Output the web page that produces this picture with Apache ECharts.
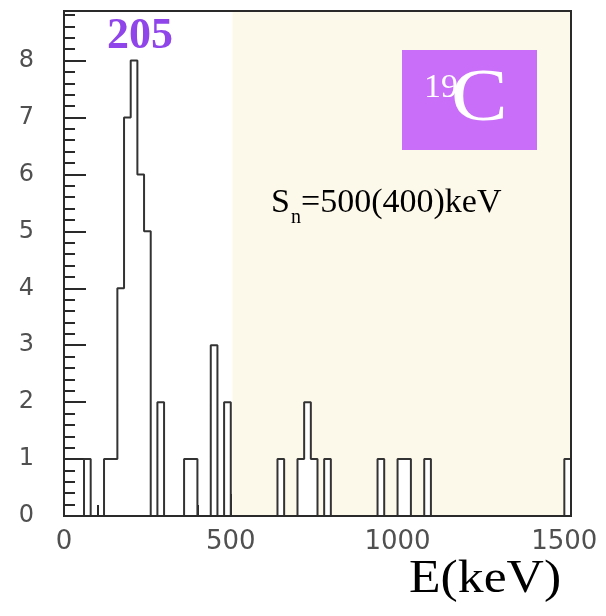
<!DOCTYPE html>
<html>
<head>
<meta charset="utf-8">
<script src="https://cdn.jsdelivr.net/npm/echarts@6/dist/echarts.min.js"></script>
<style>
  html, body { margin: 0; padding: 0; background: #ffffff; }
  #chart { width: 606px; height: 616px; }
</style>
</head>
<body>
<div id="chart"></div>
<script>
// Histogram of decay energies, 20 keV bins starting at 0 keV
const binWidth = 20;
const counts = [
  0, 0, 0, 1, 0, 0, 1, 1, 4, 7,
  8, 6, 5, 0, 2, 0, 0, 0, 1, 1,
  0, 0, 3, 0, 2, 0, 0, 0, 0, 0,
  0, 0, 1, 0, 0, 1, 2, 1, 0, 1,
  0, 0, 0, 0, 0, 0, 0, 1, 0, 0,
  1, 1, 0, 0, 1, 0, 0, 0, 0, 0,
  0, 0, 0, 0, 0, 0, 0, 0, 0, 0,
  0, 0, 0, 0, 0, 1
];

// Axis ranges and tick settings
const xRange = [0, 1520];
const yRange = [0, 8.87];
const xMajorTicks = [0, 500, 1000, 1500];
const yMajorTicks = [0, 1, 2, 3, 4, 5, 6, 7, 8];

// Region above the neutron separation energy
const shadedRange = [505, 1520];

// Annotation texts
const peakLabel = '205';
const nucleusMass = '19';
const nucleusSymbol = 'C';
const snMain = 'S';
const snSub = 'n';
const snValue = '=500(400)keV';
const xTitle = 'E(keV)';

// Step line: left edge of every bin, then closing point at the last edge
const stepData = counts.map((c, k) => [k * binWidth, c]);
stepData.push([counts.length * binWidth, 0]);

const chart = echarts.init(document.getElementById('chart'), null, { renderer: 'canvas' });

const frameColor = '#2a2a2a';
const labelColor = '#505050';

const option = {
  animation: false,
  backgroundColor: '#ffffff',
  grid: { left: 64, top: 11, width: 507, height: 505, show: false },
  xAxis: [
    {
      type: 'value', min: xRange[0], max: xRange[1], interval: 500,
      axisLine: { show: true, onZero: false, lineStyle: { color: frameColor, width: 2 } },
      axisTick: { inside: true, length: 22, lineStyle: { color: frameColor, width: 2 } },
      axisLabel: {
        fontFamily: 'DejaVu Sans', fontSize: 26, color: labelColor, margin: 13,
        formatter: v => (xMajorTicks.indexOf(v) >= 0 ? String(v) : '')
      },
      splitLine: { show: false }
    },
    {
      type: 'value', min: xRange[0], max: xRange[1], interval: 100, position: 'bottom',
      axisLine: { show: false },
      axisTick: { inside: true, length: 11, lineStyle: { color: frameColor, width: 2 } },
      axisLabel: { show: false },
      splitLine: { show: false }
    }
  ],
  yAxis: [
    {
      type: 'value', min: yRange[0], max: yRange[1], interval: 1,
      axisLine: { show: true, onZero: false, lineStyle: { color: frameColor, width: 2 } },
      axisTick: { inside: true, length: 22, lineStyle: { color: frameColor, width: 2 } },
      axisLabel: {
        fontFamily: 'DejaVu Sans', fontSize: 24, color: labelColor, margin: 30,
        formatter: v => (yMajorTicks.indexOf(v) >= 0 ? String(v) : '')
      },
      splitLine: { show: false }
    },
    {
      type: 'value', min: yRange[0], max: yRange[1], interval: 0.2, position: 'left',
      axisLine: { show: false },
      axisTick: { inside: true, length: 11, lineStyle: { color: frameColor, width: 2 } },
      axisLabel: { show: false },
      splitLine: { show: false }
    }
  ],
  series: [
    {
      type: 'line', data: [], z: 1,
      markArea: {
        silent: true,
        itemStyle: { color: '#fdf9ea' },
        data: [[{ xAxis: shadedRange[0] }, { xAxis: shadedRange[1] }]]
      }
    },
    {
      type: 'line', data: stepData, step: 'end', z: 3,
      symbol: 'none',
      lineStyle: { color: '#333333', width: 2 },
      areaStyle: { color: '#ffffff', opacity: 1 }
    }
  ]
};

chart.setOption(option);

// Plot frame drawn on top of everything, from the axis extents
const p0 = chart.convertToPixel({ gridIndex: 0 }, [xRange[0], yRange[0]]);
const p1 = chart.convertToPixel({ gridIndex: 0 }, [xRange[1], yRange[1]]);

chart.setOption({
  graphic: [
    {
      type: 'rect', z: 100, silent: true,
      shape: { x: p0[0], y: p1[1], width: p1[0] - p0[0], height: p0[1] - p1[1] },
      style: { fill: 'none', stroke: frameColor, lineWidth: 2 }
    },
    {
      type: 'text', z: 100, x: 140, y: 37,
      style: {
        text: peakLabel, fill: '#8f45ea', align: 'center', verticalAlign: 'middle',
        font: 'bold 44px "Liberation Serif"'
      }
    },
    {
      type: 'rect', z: 100,
      shape: { x: 402, y: 50, width: 135, height: 100 },
      style: { fill: '#c96ef8' }
    },
    {
      type: 'text', z: 101, x: 424, y: 88,
      style: {
        text: nucleusMass, fill: '#ffffff', align: 'left', verticalAlign: 'middle',
        font: '34px "Liberation Serif"'
      }
    },
    {
      type: 'text', z: 101, x: 451, y: 101, scaleX: 1.15,
      style: {
        text: nucleusSymbol, fill: '#ffffff', align: 'left', verticalAlign: 'middle',
        font: '74px "Liberation Serif"'
      }
    },
    {
      type: 'text', z: 100, x: 271, y: 203,
      style: { text: snMain, fill: '#000000', align: 'left', verticalAlign: 'middle', font: '34px "Liberation Serif"' }
    },
    {
      type: 'text', z: 100, x: 291, y: 218,
      style: { text: snSub, fill: '#000000', align: 'left', verticalAlign: 'middle', font: '20px "Liberation Serif"' }
    },
    {
      type: 'text', z: 100, x: 301, y: 203,
      style: { text: snValue, fill: '#000000', align: 'left', verticalAlign: 'middle', font: '34px "Liberation Serif"' }
    },
    {
      type: 'text', z: 100, x: 409, y: 580, scaleX: 1.1,
      style: { text: xTitle, fill: '#000000', align: 'left', verticalAlign: 'middle', font: '47px "Liberation Serif"' }
    }
  ]
});
</script>
</body>
</html>
